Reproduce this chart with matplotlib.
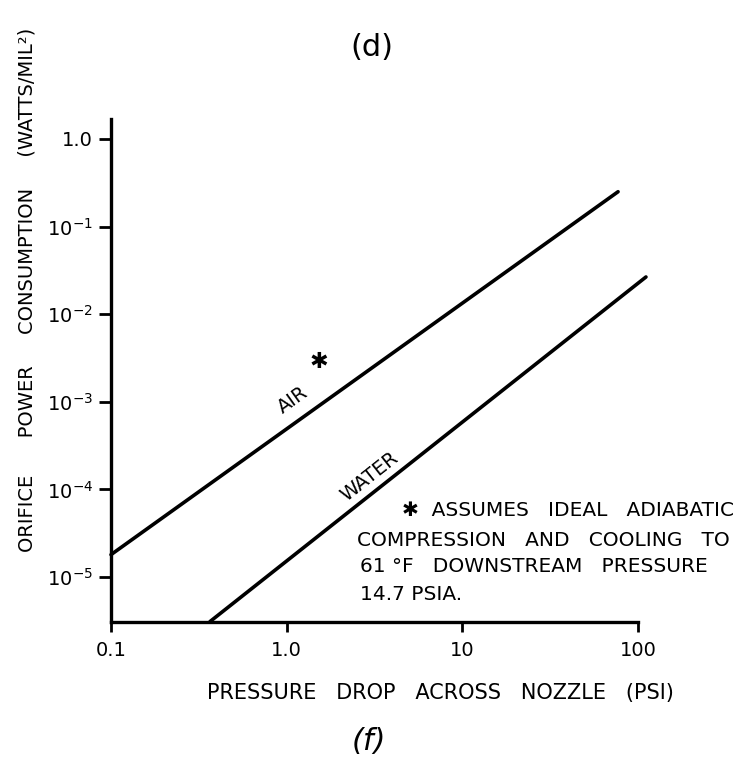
import matplotlib
matplotlib.use("Agg")
import matplotlib.pyplot as plt
from matplotlib.ticker import NullLocator, FixedLocator, FixedFormatter

# ---- data ----
air_x = [0.1, 77.0]
air_y = [1.8e-5, 0.25]
water_x = [0.366, 111.0]
water_y = [3.1e-6, 0.0266]

x_ticks = [0.1, 1.0, 10.0, 100.0]
x_tick_labels = ["0.1", "1.0", "10", "100"]
y_ticks = [1.0, 1e-1, 1e-2, 1e-3, 1e-4, 1e-5]
y_tick_labels = ["1.0", "$10^{-1}$", "$10^{-2}$", "$10^{-3}$", "$10^{-4}$", "$10^{-5}$"]

W, H = 743, 767
fig = plt.figure(figsize=(W / 100, H / 100), dpi=100)
fig.patch.set_facecolor("white")

def fx(px):
    return px / W

def fy(py):
    return 1 - py / H

ax = fig.add_axes([fx(111), fy(621.7), fx(638) - fx(111), (621.7 - 119) / H])
ax.set_xscale("log")
ax.set_yscale("log")
ax.set_xlim(0.1, 100)
ax.set_ylim(10 ** -5.51, 10 ** 0.228)

ax.plot(air_x, air_y, color="black", lw=2.6, solid_capstyle="round", clip_on=False)
ax.plot(water_x, water_y, color="black", lw=2.6, solid_capstyle="round", clip_on=False)

for s in ["top", "right"]:
    ax.spines[s].set_visible(False)
for s in ["left", "bottom"]:
    ax.spines[s].set_linewidth(2.4)

ax.xaxis.set_major_locator(FixedLocator(x_ticks))
ax.xaxis.set_major_formatter(FixedFormatter(x_tick_labels))
ax.yaxis.set_major_locator(FixedLocator(y_ticks))
ax.yaxis.set_major_formatter(FixedFormatter(y_tick_labels))
ax.xaxis.set_minor_locator(NullLocator())
ax.yaxis.set_minor_locator(NullLocator())
ax.tick_params(axis="x", direction="out", length=7, width=2, pad=7, labelsize=14)
ax.tick_params(axis="y", direction="out", length=9, width=2, pad=4, labelsize=14)

# line labels
ax.text(1.09, 1.05e-3, "AIR", rotation=35.6, ha="center", va="center", fontsize=14,
        rotation_mode="anchor")
ax.text(1.53, 2.85e-3, "\u2731", ha="center", va="center", fontsize=16)
ax.text(2.98, 1.39e-4, "WATER", rotation=38.3, ha="center", va="center", fontsize=14,
        rotation_mode="anchor")

# footnote
note_fs = 14.5
fig.text(fx(402), fy(510), "\u2731  ASSUMES   IDEAL   ADIABATIC", ha="left", va="center", fontsize=note_fs)
fig.text(fx(357), fy(540), "COMPRESSION   AND   COOLING   TO", ha="left", va="center", fontsize=note_fs)
fig.text(fx(360), fy(567), "61 \u00b0F   DOWNSTREAM   PRESSURE", ha="left", va="center", fontsize=note_fs)
fig.text(fx(360), fy(595), "14.7 PSIA.", ha="left", va="center", fontsize=note_fs)

# axis titles
fig.text(fx(440), fy(693), "PRESSURE   DROP   ACROSS   NOZZLE   (PSI)", ha="center", va="center",
         fontsize=15)
fig.text(fx(27), fy(290), "ORIFICE      POWER     CONSUMPTION     (WATTS/MIL\u00b2)", rotation=90,
         ha="center", va="center", fontsize=14)

# panel letters
fig.text(fx(372), fy(47), "(d)", ha="center", va="center", fontsize=22)
fig.text(fx(369), fy(742), "(f)", ha="center", va="center", fontsize=22, style="italic")

fig.savefig("out.png", dpi=100, facecolor="white")
